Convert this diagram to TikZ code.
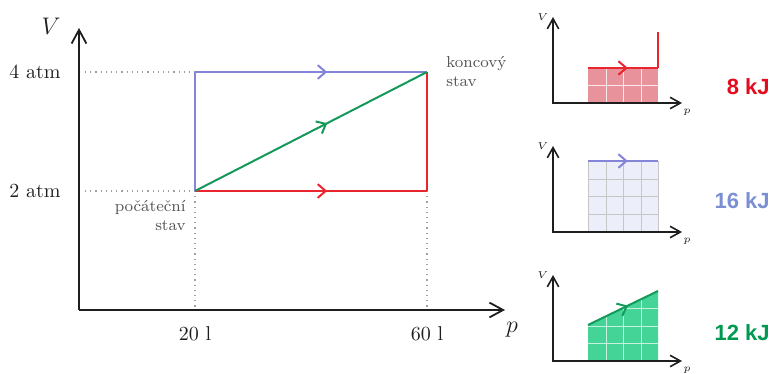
\documentclass[tikz,border=0pt]{standalone}
\usepackage{fontspec}
\newfontfamily\kjfont{Liberation Sans}
\usetikzlibrary{arrows.meta,decorations.markings}
\definecolor{ink}{HTML}{1E1E1E}
\definecolor{muted}{HTML}{555555}
\definecolor{pathred}{HTML}{E9262F}
\definecolor{pathblue}{HTML}{8484D8}
\definecolor{pathgreen}{HTML}{15995A}
\definecolor{redfill}{HTML}{E8939B}
\definecolor{bluefill}{HTML}{ECEEF9}
\definecolor{greenfill}{HTML}{45D497}
\definecolor{kjred}{HTML}{E30B1E}
\definecolor{kjblue}{HTML}{7B8FD3}
\definecolor{kjgreen}{HTML}{00994F}
\tikzset{
  axis/.style={-{Straight Barb[length=2.4mm,width=2.6mm]},line width=.9pt,draw=ink},
  smallaxis/.style={{Straight Barb[length=1.8mm,width=2mm]}-{Straight Barb[length=1.8mm,width=2mm]},line width=.8pt,draw=ink},
  guide/.style={dotted,draw=gray!75,line width=.6pt},
  proc/.style={line width=1pt,postaction={decorate},
               decoration={markings,mark=at position #1 with {\arrow{Straight Barb[length=1.4mm,width=2.4mm]}}}},
  proc/.default=.57,
  plain/.style={line width=1pt},
  tick/.style={font=\normalsize,text=ink,inner sep=1pt},
  state/.style={font=\footnotesize,text=muted,inner sep=1pt},
  axlab/.style={font=\large,text=ink,inner sep=0pt},
  smalllab/.style={font=\tiny,text=ink,inner sep=0pt},
  work/.style={font={\kjfont\bfseries\fontsize{11}{13}\selectfont},anchor=east,inner sep=0pt},
  cell/.style={line width=.4pt}
}
\begin{document}
\begin{tikzpicture}[x=.5pt,y=-.5pt]
  \useasboundingbox (0,0) rectangle (772,374);
  \coordinate (O) at (79,310);
  \coordinate (Vtip) at (79,28);
  \coordinate (ptip) at (505,310);
  \coordinate (ini) at (195,191);
  \coordinate (fin) at (427,72);
  \coordinate (ul) at (195,72);
  \coordinate (lr) at (427,191);
  \coordinate (g4) at (85,72);
  \coordinate (g2) at (85,191);
  \coordinate (f20) at (195,310);
  \coordinate (f60) at (427,310);
  \draw[guide] (g4) -- (ul); \draw[guide] (g2) -- (ini);
  \draw[guide] (ini) -- (f20); \draw[guide] (lr) -- (f60);
  \draw[axis] (O) -- (Vtip);
  \draw[axis] (O) -- (ptip);
  \node[axlab] (Vlab) at (51,26) {$V$};
  \node[axlab] (plab) at (512,330) {$p$};
  \node[tick,anchor=east] (atm4) at (63,72) {4 atm};
  \node[tick,anchor=east] (atm2) at (63,191) {2 atm};
  \node[tick] (l20) at (195,334) {20 l};
  \node[tick] (l60) at (427,334) {60 l};
  \node[state,anchor=north east,align=right] (start) at (188,198) {počáteční\\stav};
  \node[state,anchor=north west,align=left] (end) at (444,54) {koncový\\stav};
  \draw[plain,draw=pathblue] (ini) -- (ul);
  \draw[proc,draw=pathblue] (ul) -- (fin);
  \draw[proc,draw=pathred] (ini) -- (lr);
  \draw[plain,draw=pathred] (lr) -- (fin);
  \draw[proc,draw=pathgreen] (ini) -- (fin);
  \fill[redfill] (588,68) rectangle (658,103);
  \foreach \x in {606,623,641} \draw[cell,draw=white!80!redfill] (\x,68) -- (\x,103);
  \draw[cell,draw=white!80!redfill] (588,85) -- (658,85);
  \fill[bluefill] (588,161) rectangle (658,232);
  \foreach \x in {606,623,641} \draw[cell,draw=gray!45] (\x,161) -- (\x,232);
  \foreach \y in {179,196,214} \draw[cell,draw=gray!45] (588,\y) -- (658,\y);
  \draw[cell,draw=gray!45] (588,161) rectangle (658,232);
  \fill[greenfill] (588,325) -- (658,291) -- (658,361) -- (588,361) -- cycle;
  \begin{scope}
    \clip (588,325) -- (658,291) -- (658,361) -- (588,361) -- cycle;
    \foreach \x in {606,623,641} \draw[cell,draw=white!70!greenfill] (\x,291) -- (\x,361);
    \foreach \y in {308,326,343} \draw[cell,draw=white!70!greenfill] (588,\y) -- (658,\y);
  \end{scope}
  \foreach \k/\dy in {1/0,2/129,3/258}{
    \coordinate (o\k) at (553,103+\dy);
    \coordinate (v\k) at (553,17+\dy);
    \coordinate (p\k) at (682,103+\dy);
    \draw[smallaxis] (v\k) -- (o\k) -- (p\k);
    \node[smalllab] (vl\k) at (543,17+\dy) {$V$};
    \node[smalllab] (pl\k) at (687,112+\dy) {$p$};
  }
  \coordinate (r1) at (588,68); \coordinate (r2) at (658,68); \coordinate (r3) at (658,32);
  \draw[proc,draw=pathred] (r1) -- (r2);
  \draw[plain,draw=pathred] (r2) -- (r3);
  \coordinate (b1) at (588,161); \coordinate (b2) at (658,161);
  \draw[proc,draw=pathblue] (b1) -- (b2);
  \coordinate (e1) at (588,325); \coordinate (e2) at (658,291);
  \draw[proc,draw=pathgreen] (e1) -- (e2);
  \node[work,text=kjred] (w1) at (770,87) {8 kJ};
  \node[work,text=kjblue] (w2) at (770,201) {16 kJ};
  \node[work,text=kjgreen] (w3) at (770,333) {12 kJ};
\end{tikzpicture}
\end{document}
